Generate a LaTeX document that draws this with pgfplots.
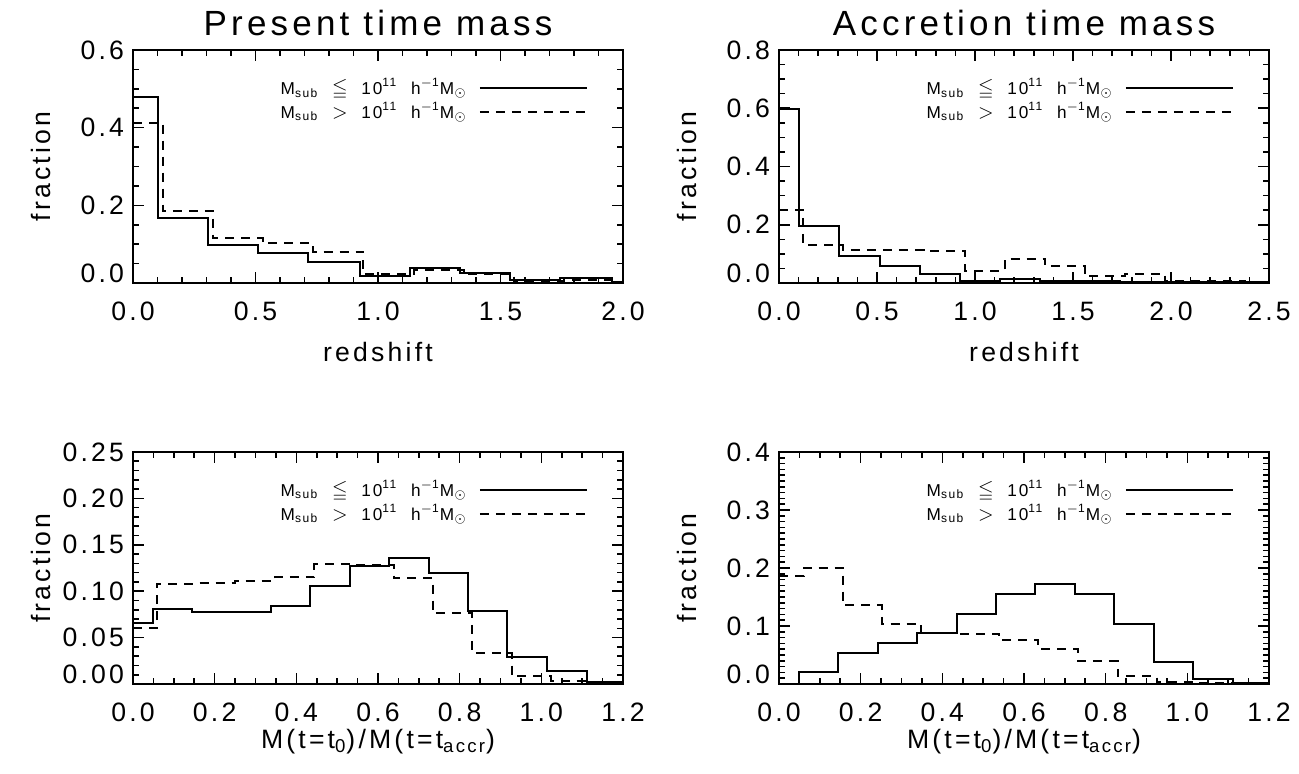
\documentclass[border=0pt]{standalone}
\usepackage{amssymb}
\usepackage{fontspec}
\setmainfont{Liberation Sans}[LetterSpace=12]
\usepackage{pgfplots}
\pgfplotsset{compat=1.18}
\newcommand{\lowlab}{M\textsubscript{sub}\ \ {\fontsize{10}{10}\selectfont$\leqq$}\ \ 10\textsuperscript{11}\ \ h\textsuperscript{$-$1}M\textsubscript{$\odot$}}
\newcommand{\highlab}{M\textsubscript{sub}\ \ {\fontsize{10}{10}\selectfont$>$}\ \ 10\textsuperscript{11}\ \ h\textsuperscript{$-$1}M\textsubscript{$\odot$}}
\pgfplotsset{
  idl/.style={
    scale only axis, width=245pt,
    anchor=south west,
    axis line style={line width=0.8pt},
    every tick/.style={line width=0.8pt, black},
    tick align=inside,
    major tick length=5.3pt, minor tick length=2.8pt,
    xtick pos=both, ytick pos=both,
    /pgf/number format/assume math mode=true,
    tick label style={font=\fontsize{13.3}{14}\selectfont},
    xticklabel style={yshift=-6pt},
    yticklabel style={xshift=-1pt},
    label style={font=\fontsize{13.3}{14}\selectfont},
    every axis title shift=0pt,
    title style={font=\fontsize{17.5}{18}\selectfont, at={(axis description cs:0.5,1.064)}, anchor=base},
    ylabel style={at={(axis description cs:-0.168,0.5)}, anchor=base},
    ylabel={fraction},
    legend style={draw=none, fill=none, at={(axis description cs:0.929,0.879)}, anchor=north east,
      font=\fontsize{8.6}{10}\selectfont, row sep=2.5pt, column sep=6pt, inner sep=0pt,
      nodes={inner sep=0pt}},
    legend cell align=left,
    legend plot pos=right,
    legend image code/.code={\draw[##1] (0pt,0pt) -- (53.5pt,0pt);},
  },
  solidh/.style={const plot, black, line width=1pt, no marks},
  dashh/.style={const plot, black, line width=1pt, no marks, dash pattern=on 4.5pt off 3.5pt},
}
\begin{document}
\begin{tikzpicture}
\path[use as bounding box] (0,0) rectangle (649.5pt,387pt);
% Top left
\begin{axis}[idl, at={(66.5pt,245.5pt)}, height=116.5pt,
  xmin=0, xmax=2, ymin=0, ymax=0.6,
  xtick={0,0.5,1,1.5,2}, xticklabels={0.0,0.5,1.0,1.5,2.0}, minor x tick num=4,
  ytick={0,0.2,0.4,0.6}, yticklabels={\raisebox{10pt}{0.0},0.2,0.4,0.6}, minor y tick num=3,
  title={Present time mass}, xlabel={redshift},
  xlabel style={at={(axis description cs:0.5,-0.335)}, anchor=base}]
\addplot[solidh] coordinates {(0,0.480) (0.102,0.167) (0.306,0.0966) (0.51,0.078) (0.714,0.054) (0.927,0.018) (1.131,0.038) (1.335,0.025) (1.539,0.008) (1.743,0.014) (1.955,0.003) (2.0,0.003)};
\addlegendentry{\lowlab}
\addplot[dashh] coordinates {(0,0.413) (0.122,0.186) (0.327,0.115) (0.531,0.102) (0.736,0.080) (0.940,0.022) (1.145,0.034) (1.349,0.022) (1.554,0.005) (1.758,0.007) (1.963,0.002) (2.0,0.002)};
\addlegendentry{\highlab}
\end{axis}
% Top right
\begin{axis}[idl, at={(389.5pt,245.5pt)}, height=116.5pt,
  xmin=0, xmax=2.5, ymin=0, ymax=0.8,
  xtick={0,0.5,1,1.5,2,2.5}, xticklabels={0.0,0.5,1.0,1.5,2.0,2.5}, minor x tick num=4,
  ytick={0,0.2,0.4,0.6,0.8}, yticklabels={\raisebox{10pt}{0.0},0.2,0.4,0.6,0.8}, minor y tick num=3,
  title={Accretion time mass}, xlabel={redshift},
  xlabel style={at={(axis description cs:0.5,-0.335)}, anchor=base}]
\addplot[solidh] coordinates {(0,0.596) (0.104,0.196) (0.308,0.092) (0.513,0.057) (0.717,0.030) (0.922,0.007) (1.126,0.012) (1.331,0.008) (1.535,0.006) (1.74,0.005) (1.944,0.004) (2.149,0.003) (2.353,0.002) (2.5,0.002)};
\addlegendentry{\lowlab}
\addplot[dashh] coordinates {(0,0.250) (0.124,0.130) (0.327,0.112) (0.533,0.112) (0.738,0.110) (0.949,0.042) (1.153,0.083) (1.357,0.057) (1.56,0.024) (1.765,0.032) (1.97,0.006) (2.17,0.006) (2.375,0.004) (2.5,0.004)};
\addlegendentry{\highlab}
\end{axis}
% Bottom left
\begin{axis}[idl, at={(66.5pt,45pt)}, height=116pt,
  xmin=0, xmax=1.2, ymin=0, ymax=0.25,
  xtick={0,0.2,0.4,0.6,0.8,1.0,1.2}, xticklabels={0.0,0.2,0.4,0.6,0.8,1.0,1.2}, minor x tick num=3,
  ytick={0,0.05,0.1,0.15,0.2,0.25}, yticklabels={\raisebox{10pt}{0.00},0.05,0.10,0.15,0.20,0.25}, minor y tick num=4,
  xlabel={M(t=t\textsubscript{0})/M(t=t\textsubscript{accr})},
  xlabel style={at={(axis description cs:0.5,-0.276)}, anchor=base}]
\addplot[solidh] coordinates {(0,0.0657) (0.048,0.0807) (0.145,0.078) (0.241,0.078) (0.338,0.0836) (0.434,0.106) (0.531,0.127) (0.628,0.136) (0.724,0.120) (0.821,0.079) (0.917,0.029) (1.014,0.014) (1.111,0.002) (1.2,0.002)};
\addlegendentry{\lowlab}
\addplot[dashh] coordinates {(0,0.060) (0.058,0.108) (0.155,0.109) (0.251,0.111) (0.348,0.115) (0.444,0.129) (0.541,0.128) (0.638,0.114) (0.734,0.076) (0.831,0.033) (0.927,0.0086) (1.024,0.0035) (1.121,0.001) (1.2,0.001)};
\addlegendentry{\highlab}
\end{axis}
% Bottom right
\begin{axis}[idl, at={(389.5pt,45pt)}, height=116pt,
  xmin=0, xmax=1.2, ymin=0, ymax=0.4,
  xtick={0,0.2,0.4,0.6,0.8,1.0,1.2}, xticklabels={0.0,0.2,0.4,0.6,0.8,1.0,1.2}, minor x tick num=3,
  ytick={0,0.1,0.2,0.3,0.4}, yticklabels={\raisebox{10pt}{0.0},0.1,0.2,0.3,0.4}, minor y tick num=9,
  xlabel={M(t=t\textsubscript{0})/M(t=t\textsubscript{accr})},
  xlabel style={at={(axis description cs:0.5,-0.276)}, anchor=base}]
\addplot[solidh] coordinates {(0,0) (0.049,0.021) (0.145,0.053) (0.242,0.071) (0.339,0.0875) (0.435,0.121) (0.532,0.155) (0.628,0.172) (0.725,0.155) (0.821,0.104) (0.918,0.038) (1.014,0.008) (1.111,0.001) (1.2,0.001)};
\addlegendentry{\lowlab}
\addplot[dashh] coordinates {(0,0.186) (0.06,0.2005) (0.156,0.136) (0.251,0.104) (0.348,0.0875) (0.443,0.0865) (0.539,0.076) (0.635,0.060) (0.733,0.039) (0.829,0.014) (0.925,0.0035) (1.022,0.001) (1.118,0.0005) (1.2,0.0005)};
\addlegendentry{\highlab}
\end{axis}
\end{tikzpicture}
\end{document}
